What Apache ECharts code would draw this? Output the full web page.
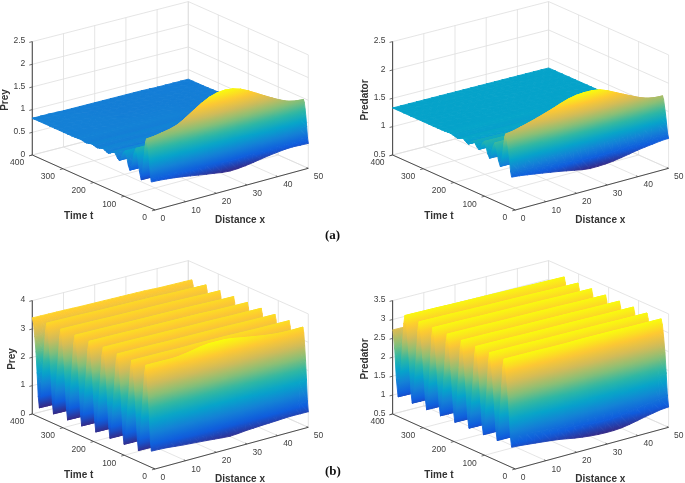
<!DOCTYPE html>
<html><head><meta charset="utf-8">
<style>html,body{margin:0;padding:0;background:#fff}#c{width:685px;height:483px;filter:blur(0.45px)}</style>
<script src="https://cdn.jsdelivr.net/npm/echarts@6/dist/echarts.min.js"></script>
</head><body><div id="c"></div>
<script>
// ---------- axis tick labels ----------
const xTicks=[0,10,20,30,40,50];
const tTicks=[0,100,200,300,400];
const zTicksPreyA=[0,0.5,1,1.5,2,2.5];
const zTicksPredA=[0.5,1,1.5,2,2.5];
const zTicksPreyB=[0,1,2,3,4];
const zTicksPredB=[0.5,1,1.5,2,2.5,3,3.5];
// ---------- surface grids ----------
const xGrid=[0,5,10,15,20,25,30,35,40,45,50];
const tLag=[12,11,10,8,7,6,5,4,2,1,0];
// ---------- (a) Prey ----------
const timesPreyA=[0,8,16,24,33,50,70,86,105,122,141,158,177,194,213,230,260,300,350,400];
const preyA=[
[.58,.56,.52,.47,.42,.38,.41,.47,.53,.56,.55],
[1.15,1.18,1.25,1.35,1.45,1.46,1.42,1.35,1.25,1.18,1.12],
[1.48,1.53,1.62,1.85,2.05,2.12,2.05,1.87,1.68,1.52,1.47],
[1.05,1.05,1.10,1.20,1.30,1.30,1.30,1.20,1.10,1.05,1.00],
[.53,.53,.52,.50,.48,.47,.48,.50,.52,.53,.53],
[1.17,1.17,1.17,1.18,1.20,1.20,1.20,1.18,1.17,1.16,1.16],
[.63,.63,.63,.62,.62,.62,.62,.62,.63,.63,.63],
[1.00,1.00,1.00,1.00,1.01,1.01,1.01,1.00,1.00,1.00,.99],
[.74,.74,.74,.73,.73,.73,.73,.73,.74,.74,.74],
[.88,.88,.88,.88,.88,.88,.88,.88,.88,.88,.87],
[.79,.79,.78,.78,.78,.78,.78,.78,.78,.79,.79],
[.84,.84,.84,.84,.84,.84,.84,.84,.84,.84,.83],
[.80,.80,.80,.80,.80,.80,.80,.80,.80,.80,.80],
[.83,.83,.83,.83,.83,.83,.83,.83,.83,.82,.82],
[.80,.80,.80,.80,.80,.80,.80,.80,.80,.80,.80],
[.82,.82,.82,.82,.82,.82,.82,.81,.81,.81,.81],
[.81,.81,.81,.81,.81,.81,.81,.80,.80,.80,.80],
[.81,.81,.81,.81,.80,.80,.80,.80,.80,.80,.80],
[.81,.81,.81,.80,.80,.80,.80,.80,.80,.80,.79],
[.81,.81,.80,.80,.80,.80,.80,.80,.79,.79,.79]];
// ---------- (a) Predator ----------
const timesPredA=[0,10,20,28,37,55,72,90,107,125,142,160,177,200,230,270,330,400];
const predA=[
[1.05,1.02,.98,.94,.89,.85,.86,.90,.96,1.00,1.03],
[1.50,1.50,1.55,1.62,1.68,1.68,1.65,1.60,1.52,1.46,1.42],
[1.76,1.82,1.90,2.00,2.10,2.14,2.12,2.00,1.87,1.76,1.73],
[1.45,1.46,1.48,1.52,1.56,1.58,1.56,1.52,1.48,1.45,1.44],
[1.15,1.15,1.14,1.13,1.12,1.12,1.12,1.13,1.14,1.15,1.15],
[1.52,1.52,1.52,1.53,1.53,1.53,1.53,1.53,1.52,1.52,1.51],
[1.21,1.21,1.21,1.20,1.20,1.20,1.20,1.20,1.21,1.21,1.21],
[1.46,1.46,1.46,1.46,1.46,1.46,1.46,1.46,1.46,1.45,1.45],
[1.28,1.28,1.28,1.27,1.27,1.27,1.27,1.27,1.28,1.28,1.28],
[1.38,1.38,1.38,1.38,1.38,1.38,1.38,1.38,1.38,1.38,1.37],
[1.29,1.29,1.29,1.29,1.29,1.29,1.29,1.29,1.29,1.30,1.30],
[1.35,1.35,1.35,1.35,1.35,1.35,1.35,1.35,1.35,1.35,1.35],
[1.31,1.31,1.31,1.31,1.31,1.31,1.31,1.31,1.31,1.31,1.31],
[1.34,1.34,1.34,1.34,1.34,1.34,1.33,1.33,1.33,1.33,1.33],
[1.33,1.33,1.33,1.33,1.33,1.33,1.33,1.33,1.33,1.33,1.33],
[1.33,1.33,1.33,1.33,1.33,1.33,1.33,1.33,1.33,1.33,1.33],
[1.33,1.33,1.33,1.33,1.33,1.33,1.33,1.33,1.33,1.33,1.33],
[1.33,1.33,1.33,1.33,1.33,1.33,1.33,1.33,1.33,1.33,1.33]];
// ---------- (b) Prey ----------
const timesPreyB=[0,9,18,30,42,53,64,76,89,100,111,123,135,146,157,169,181,192,203,215,227,238,249,261,273,284,295,307,319,330,341,353,365,376,388];
const preyB=[
[.57,.55,.50,.47,.43,.39,.44,.48,.52,.55,.55],
[2.30,2.32,2.35,2.45,2.55,2.58,2.52,2.42,2.35,2.30,2.30],
[3.51,3.51,3.52,3.62,3.71,3.71,3.63,3.54,3.47,3.44,3.45],
[1.90,1.90,1.92,1.95,1.98,1.98,1.95,1.92,1.90,1.88,1.88],
[.39,.39,.38,.37,.36,.36,.36,.37,.38,.38,.39],
[2.32,2.32,2.33,2.33,2.34,2.34,2.34,2.33,2.33,2.32,2.32],
[3.46,3.46,3.46,3.46,3.47,3.47,3.47,3.46,3.46,3.46,3.46],
[1.85,1.85,1.85,1.86,1.86,1.86,1.86,1.85,1.85,1.85,1.85],
[.38,.38,.38,.37,.37,.37,.37,.37,.38,.38,.38],
[2.31,2.31,2.32,2.32,2.32,2.32,2.32,2.32,2.31,2.31,2.31],
[3.46,3.46,3.46,3.46,3.46,3.46,3.46,3.46,3.46,3.46,3.46],
[1.85,1.85,1.85,1.85,1.85,1.85,1.85,1.85,1.85,1.85,1.85],
[.37,.37,.37,.37,.37,.37,.37,.37,.37,.37,.37],
[2.30,2.30,2.31,2.31,2.31,2.31,2.31,2.31,2.30,2.30,2.30],
[3.47,3.47,3.47,3.47,3.47,3.46,3.46,3.46,3.46,3.46,3.46],
[1.84,1.84,1.84,1.84,1.84,1.84,1.84,1.84,1.84,1.84,1.84],
[.37,.37,.37,.36,.36,.36,.36,.36,.37,.37,.37],
[2.30,2.30,2.30,2.30,2.31,2.31,2.31,2.30,2.30,2.30,2.30],
[3.46,3.46,3.46,3.46,3.46,3.46,3.46,3.46,3.45,3.45,3.45],
[1.84,1.84,1.84,1.84,1.84,1.84,1.84,1.84,1.84,1.84,1.84],
[.36,.36,.36,.36,.36,.36,.36,.36,.36,.36,.36],
[2.29,2.29,2.30,2.30,2.30,2.30,2.30,2.30,2.29,2.29,2.29],
[3.45,3.45,3.45,3.45,3.45,3.45,3.45,3.45,3.45,3.44,3.44],
[1.83,1.83,1.83,1.83,1.83,1.83,1.83,1.83,1.83,1.83,1.83],
[.35,.35,.35,.35,.35,.35,.35,.35,.35,.35,.35],
[2.28,2.28,2.29,2.29,2.29,2.29,2.29,2.29,2.28,2.28,2.28],
[3.44,3.44,3.44,3.44,3.44,3.44,3.44,3.44,3.44,3.43,3.43],
[1.82,1.82,1.82,1.82,1.82,1.82,1.82,1.82,1.82,1.82,1.82],
[.34,.34,.34,.34,.34,.34,.34,.34,.34,.34,.34],
[2.27,2.27,2.28,2.28,2.28,2.28,2.28,2.28,2.27,2.27,2.27],
[3.43,3.43,3.43,3.43,3.43,3.43,3.43,3.43,3.42,3.42,3.42],
[1.82,1.82,1.82,1.82,1.82,1.82,1.82,1.82,1.82,1.82,1.82],
[.33,.33,.33,.33,.33,.33,.33,.33,.33,.33,.33],
[2.26,2.26,2.26,2.26,2.26,2.26,2.26,2.26,2.26,2.26,2.26],
[3.39,3.39,3.39,3.39,3.39,3.39,3.39,3.39,3.38,3.38,3.38]];
// ---------- (b) Predator ----------
const timesPredB=[0,12,25,36,47,60,72,82,92,105,117,128,139,152,164,175,185,198,210,221,232,245,257,267,277,290,302,313,324,336,348,359,370,387];
const predB=[
[1.03,1.00,.96,.92,.85,.80,.78,.80,.89,.98,1.04],
[2.40,2.40,2.38,2.36,2.34,2.32,2.32,2.34,2.38,2.40,2.42],
[3.27,3.27,3.27,3.27,3.27,3.28,3.28,3.28,3.28,3.28,3.28],
[2.05,2.05,2.05,2.05,2.05,2.05,2.05,2.05,2.05,2.05,2.05],
[1.04,1.04,1.04,1.04,1.03,1.03,1.03,1.04,1.04,1.04,1.04],
[2.40,2.40,2.40,2.40,2.40,2.40,2.40,2.40,2.40,2.40,2.40],
[3.27,3.27,3.27,3.27,3.27,3.27,3.27,3.27,3.27,3.27,3.27],
[2.05,2.05,2.05,2.05,2.05,2.05,2.05,2.05,2.05,2.05,2.05],
[1.03,1.03,1.03,1.03,1.03,1.03,1.03,1.03,1.03,1.03,1.03],
[2.39,2.39,2.39,2.39,2.39,2.39,2.39,2.39,2.39,2.39,2.39],
[3.27,3.27,3.27,3.27,3.27,3.27,3.27,3.27,3.27,3.27,3.27],
[2.04,2.04,2.04,2.04,2.04,2.04,2.04,2.04,2.04,2.04,2.04],
[1.03,1.03,1.03,1.03,1.03,1.03,1.03,1.03,1.03,1.03,1.03],
[2.39,2.39,2.39,2.39,2.39,2.39,2.39,2.39,2.39,2.39,2.39],
[3.26,3.26,3.26,3.26,3.26,3.26,3.26,3.26,3.26,3.26,3.26],
[2.04,2.04,2.04,2.04,2.04,2.04,2.04,2.04,2.04,2.04,2.04],
[1.02,1.02,1.02,1.02,1.02,1.02,1.02,1.02,1.02,1.02,1.02],
[2.38,2.38,2.38,2.38,2.38,2.38,2.38,2.38,2.38,2.38,2.38],
[3.26,3.26,3.26,3.26,3.26,3.26,3.26,3.26,3.26,3.26,3.26],
[2.04,2.04,2.04,2.04,2.04,2.04,2.04,2.04,2.04,2.04,2.04],
[1.02,1.02,1.02,1.02,1.02,1.02,1.02,1.02,1.02,1.02,1.02],
[2.38,2.38,2.38,2.38,2.38,2.38,2.38,2.38,2.38,2.38,2.38],
[3.26,3.26,3.26,3.26,3.26,3.26,3.26,3.26,3.26,3.26,3.26],
[2.03,2.03,2.03,2.03,2.03,2.03,2.03,2.03,2.03,2.03,2.03],
[1.02,1.02,1.02,1.02,1.02,1.02,1.02,1.02,1.02,1.02,1.02],
[2.37,2.37,2.37,2.37,2.37,2.37,2.37,2.37,2.37,2.37,2.37],
[3.25,3.25,3.25,3.25,3.25,3.25,3.25,3.25,3.25,3.25,3.25],
[2.03,2.03,2.03,2.03,2.03,2.03,2.03,2.03,2.03,2.03,2.03],
[1.02,1.02,1.02,1.02,1.02,1.02,1.02,1.02,1.02,1.02,1.02],
[2.37,2.37,2.37,2.37,2.37,2.37,2.37,2.37,2.37,2.37,2.37],
[3.25,3.25,3.25,3.25,3.25,3.25,3.25,3.25,3.25,3.25,3.25],
[2.03,2.03,2.03,2.03,2.03,2.03,2.03,2.03,2.03,2.03,2.03],
[1.02,1.02,1.02,1.02,1.02,1.02,1.02,1.02,1.02,1.02,1.02],
[2.73,2.73,2.73,2.73,2.73,2.73,2.73,2.73,2.73,2.73,2.73]];

// ---------- layout & styling ----------
const parula=['#352A87','#0F5CDD','#1481D6','#06A4CA','#2EB7A4','#87BF77','#D1BB59','#FEC832','#F9FB0E'];
const box={c00:[155,210],c50:[308.3,168.3],c04:[32.3,155],c54:[188.3,115],h:113.4};
const panels=[
 {left:0,top:0,name:'Prey',nameX:5,times:timesPreyA,vals:preyA,zTicks:zTicksPreyA},
 {left:360.3,top:0,name:'Predator',nameX:4.7,times:timesPredA,vals:predA,zTicks:zTicksPredA},
 {left:0,top:259,name:'Prey',nameX:12.3,times:timesPreyB,vals:preyB,zTicks:zTicksPreyB},
 {left:360.3,top:259,name:'Predator',nameX:4.7,times:timesPredB,vals:predB,zTicks:zTicksPredB}
];
const hex=s=>[1,3,5].map(i=>parseInt(s.substr(i,2),16));
const pal=parula.map(hex);
function colorAt(f){f=Math.max(0,Math.min(1,f))*(pal.length-1);const i=Math.min(pal.length-2,Math.floor(f)),k=f-i;
 const c=pal[i].map((v,n)=>Math.round(v+(pal[i+1][n]-v)*k));return 'rgb('+c.join(',')+')';}
function project(x,t,zf){const u=x/50,v=t/400,a=box.c00,b=box.c50,c=box.c04,d=box.c54;
 const w=[(1-u)*(1-v),u*(1-v),(1-u)*v,u*v];
 return [w[0]*a[0]+w[1]*b[0]+w[2]*c[0]+w[3]*d[0], w[0]*a[1]+w[1]*b[1]+w[2]*c[1]+w[3]*d[1]-zf*box.h];}
const TXT='"Liberation Sans",Arial,sans-serif';

// Rendering only: a rounded (monotone Hermite) curve through the read values, like a line series' smooth option.
function curveAt(arr,pos){
 const n=arr.length,i=Math.min(n-2,Math.floor(pos)),s=pos-i;
 const tan=k=>{if(k<=0||k>=n-1)return 0;const a=arr[k]-arr[k-1],b=arr[k+1]-arr[k];return a*b<=0?0:(arr[k+1]-arr[k-1])/2;};
 const p0=arr[i],p1=arr[i+1],m0=tan(i),m1=tan(i+1),s2=s*s,s3=s2*s;
 return (2*s3-3*s2+1)*p0+(s3-2*s2+s)*m0+(-2*s3+3*s2)*p1+(s3-s2)*m1;
}
function refine(arr,sub){const out=[];for(let i=0;i<arr.length-1;i++)for(let k=0;k<sub;k++)out.push(arr[i]+(arr[i+1]-arr[i])*k/sub);out.push(arr[arr.length-1]);return out;}
function smoothMesh(pn){
 const SUBT=3,SUBX=2,nr=pn.vals.length,nc=xGrid.length;
 const times=refine(pn.times,SUBT),xs=refine(xGrid,SUBX),lag=refine(tLag,SUBX),vals=[];
 const cols=[];for(let j=0;j<nc;j++){const col=pn.vals.map(r=>r[j]),o=[];
  for(let p=0;p<=(nr-1)*SUBT;p++)o.push(curveAt(col,p/SUBT));cols.push(o);}
 for(let p=0;p<times.length;p++){const row=cols.map(c=>c[p]),o=[];
  for(let q=0;q<=(nc-1)*SUBX;q++)o.push(curveAt(row,q/SUBX));vals.push(o);}
 return {times,xs,lag,vals};
}

function triangle(api,p,zs,cmin,cmax){
 const P=p.map(q=>api.coord(q));
 const ax=P[1][0]-P[0][0],ay=P[1][1]-P[0][1],bx=P[2][0]-P[0][0],by=P[2][1]-P[0][1];
 const dz1=zs[1]-zs[0],dz2=zs[2]-zs[0],det=ax*by-ay*bx;
 const lo=Math.min(zs[0],zs[1],zs[2]),hi=Math.max(zs[0],zs[1],zs[2]);
 const frac=z=>(z-cmin)/(cmax-cmin);
 let fill=colorAt(frac((lo+hi)/2));
 if(Math.abs(det)>1e-3&&hi-lo>0.02){
  const gx=(dz1*by-dz2*ay)/det,gy=(ax*dz2-bx*dz1)/det,g2=gx*gx+gy*gy;
  const s=(lo-zs[0])/g2,e=(hi-zs[0])/g2;
  const n=Math.max(2,Math.ceil((hi-lo)/(cmax-cmin)*16)+1),stops=[];
  for(let i=0;i<=n;i++){stops.push({offset:i/n,color:colorAt(frac(lo+(hi-lo)*i/n))});}
  fill=new echarts.graphic.LinearGradient(P[0][0]+gx*s,P[0][1]+gy*s,P[0][0]+gx*e,P[0][1]+gy*e,stops,true);
 }
 return {type:'polygon',shape:{points:P},style:{fill:fill,stroke:fill,lineWidth:0.9}};
}

const grids=[],xAxes=[],yAxes=[],series=[];
panels.forEach((pn,idx)=>{
 grids.push({left:pn.left,top:pn.top,width:324,height:224});
 xAxes.push({type:'value',gridIndex:idx,min:0,max:324,show:false});
 yAxes.push({type:'value',gridIndex:idx,min:0,max:224,inverse:true,show:false});
 const zT=pn.zTicks,zMin=zT[0],zMax=zT[zT.length-1],zF=z=>(z-zMin)/(zMax-zMin);
 series.push({type:'custom',xAxisIndex:idx,yAxisIndex:idx,silent:true,animation:false,z:1,data:[[0,0]],clip:false,
  renderItem:(params,api)=>{
   const ch=[],L='#dedede',D='#4d4d4d';
   const line=(a,b,c,w)=>{const A=api.coord(a),B=api.coord(b);ch.push({type:'line',shape:{x1:A[0],y1:A[1],x2:B[0],y2:B[1]},style:{stroke:c,lineWidth:w||0.8}});};
   const text=(s,p,al,vb,sz,wt,col,rot)=>{const A=api.coord(p);ch.push({type:'text',x:A[0],y:A[1],rotation:rot||0,style:{text:s,align:al,verticalAlign:vb,fontFamily:TXT,fontSize:sz,fontWeight:wt||'normal',fill:col||'#404040'}});};
   xTicks.forEach(x=>{line(project(x,400,0),project(x,400,1),L);line(project(x,0,0),project(x,400,0),L);});
   tTicks.forEach(t=>{line(project(50,t,0),project(50,t,1),L);line(project(0,t,0),project(50,t,0),L);});
   zT.forEach(z=>{line(project(0,400,zF(z)),project(50,400,zF(z)),L);line(project(50,400,zF(z)),project(50,0,zF(z)),L);});
   line(project(0,0,0),project(50,0,0),D,1);
   line(project(0,0,0),project(0,400,0),D,1);
   line(project(0,400,0),project(0,400,1),D,1.1);
   xTicks.forEach(x=>{line(project(x,0,0),project(x,6,0),D);const p=project(x,0,0);text(String(x),[p[0]+5.5,p[1]+8.5],'left','middle',8.5);});
   tTicks.forEach(t=>{line(project(0,t,0),project(-1,t,0),D);const p=project(0,t,0);text(String(t),[p[0]-8,p[1]+8],'right','middle',8.5);});
   zT.forEach(z=>{const p=project(0,400,zF(z));line(p,[p[0]-3,p[1]+0.8],D);text(String(z),[p[0]-7,p[1]-0.5],'right','middle',8.5);});
   text('Time t',[78.7,216.7],'center','middle',10,'bold','#333');
   text('Distance x',[240,220],'center','middle',10,'bold','#333');
   text(pn.name,[pn.nameX,100],'center','middle',10,'bold','#333',Math.PI/2);
   return {type:'group',children:ch};
  }});
 const all=pn.vals.flat(),cmin=Math.min(...all),cmax=Math.max(...all);
 const m=smoothMesh(pn);
 const cells=[];
 for(let i=m.times.length-2;i>=0;i--)for(let j=m.xs.length-2;j>=0;j--)cells.push([i,j]);
 const node=(i,j)=>project(m.xs[j],Math.min(400,m.times[i]+m.lag[j]),zF(m.vals[i][j]));
 series.push({type:'custom',xAxisIndex:idx,yAxisIndex:idx,silent:true,animation:false,z:2,clip:false,progressive:0,data:cells,
  renderItem:(params,api)=>{
   const i=api.value(0),j=api.value(1),v=m.vals;
   return {type:'group',children:[
    triangle(api,[node(i+1,j+1),node(i+1,j),node(i,j+1)],[v[i+1][j+1],v[i+1][j],v[i][j+1]],cmin,cmax),
    triangle(api,[node(i+1,j),node(i,j+1),node(i,j)],[v[i+1][j],v[i][j+1],v[i][j]],cmin,cmax)]};
  }});
});
const chart=echarts.init(document.getElementById('c'),null,{renderer:'canvas'});
chart.setOption({animation:false,backgroundColor:'#fff',grid:grids,xAxis:xAxes,yAxis:yAxes,series:series,
 graphic:[
  {type:'text',left:325,top:229,style:{text:'(a)',font:'bold 13px "Liberation Serif",serif',fill:'#111'}},
  {type:'text',left:325,top:465,style:{text:'(b)',font:'bold 13px "Liberation Serif",serif',fill:'#111'}}
 ]});
</script></body></html>
